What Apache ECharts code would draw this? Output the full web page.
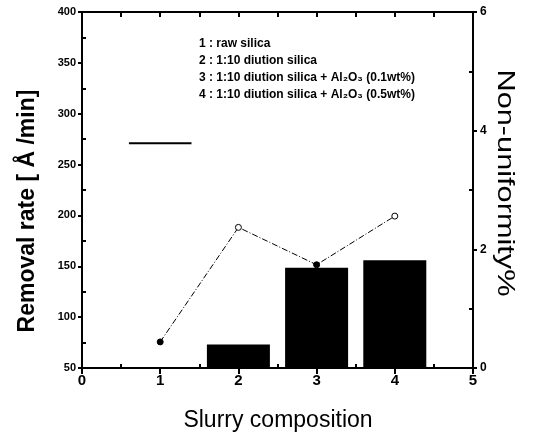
<!DOCTYPE html>
<html>
<head>
<meta charset="utf-8">
<script src="https://cdn.jsdelivr.net/npm/echarts@6/dist/echarts.min.js"></script>
<style>html,body{margin:0;padding:0;background:#fff}#c{width:534px;height:445px}</style>
</head>
<body>
<div id="c"></div>
<script>
// Data
var compositions = [1, 2, 3, 4];
var removalRate = [271, 73, 148.5, 156];      // Å/min (bar 1 drawn only as its top line)
var nonUniformity = [0.44, 2.37, 1.74, 2.56]; // %
var legendLines = [
  '1 : raw silica',
  '2 : 1:10 diution silica',
  '3 : 1:10 diution silica + Al\u2082O\u2083 (0.1wt%)',
  '4 : 1:10 diution silica + Al\u2082O\u2083 (0.5wt%)'
];
var xTicks = [0, 1, 2, 3, 4, 5];
var leftTicks = [50, 100, 150, 200, 250, 300, 350, 400];
var rightTicks = [0, 2, 4, 6];
var xTitle = 'Slurry composition';
var leftTitle = 'Removal rate [ \u00C5 /min]';
var rightTitle = 'Non-uniformity%';

var chart = echarts.init(document.getElementById('c'));
var black = '#000';
var axisLine = {show: true, onZero: false, lineStyle: {color: black, width: 2}};
var noLine = {show: false, onZero: false};
var tickLine = {color: black, width: 2};
var tickFont = {color: black, fontFamily: 'Liberation Sans', fontWeight: 'bold'};
var xMin = xTicks[0], xMax = xTicks[xTicks.length - 1];
var lMin = leftTicks[0], lMax = leftTicks[leftTicks.length - 1];
var rMin = rightTicks[0], rMax = rightTicks[rightTicks.length - 1];
var rect = {left: 82, right: 61, top: 12, bottom: 77};

var barData = [];
for (var i = 1; i < compositions.length; i++) barData.push([compositions[i], removalRate[i]]);
var lineData = compositions.map(function (c, i) {
  return {value: [c, nonUniformity[i]],
          itemStyle: {color: (i % 2 === 0) ? black : '#fff', borderColor: black, borderWidth: 1}};
});

var graphics = legendLines.map(function (t, i) {
  return {type: 'text', left: 199, top: 38 + i * 17,
          style: {text: t, fill: black, font: 'bold 12px "Liberation Sans"'}};
});
graphics.push({type: 'text', x: 28, y: 211, rotation: Math.PI / 2,
  style: {text: leftTitle, fill: black, font: 'bold 23px "Liberation Sans"', align: 'center', verticalAlign: 'middle'}});
graphics.push({type: 'text', x: 505, y: 183, rotation: -Math.PI / 2, scaleX: 1.28,
  style: {text: rightTitle, fill: black, font: '24px "Liberation Sans"', align: 'center', verticalAlign: 'middle'}});
graphics.push({type: 'text', x: 278, y: 421,
  style: {text: xTitle, fill: black, font: '23px "Liberation Sans"', align: 'center', verticalAlign: 'middle'}});

function hidden(extra) {
  return Object.assign({axisLabel: {show: false}, splitLine: {show: false}}, extra);
}

chart.setOption({
  animation: false,
  grid: [rect, rect, rect],
  xAxis: [
    {gridIndex: 0, type: 'value', position: 'bottom', min: xMin, max: xMax, interval: 1,
     axisLine: axisLine, axisTick: {show: true, length: 6, lineStyle: tickLine},
     splitLine: {show: false},
     axisLabel: Object.assign({fontSize: 15, margin: 5}, tickFont)},
    hidden({gridIndex: 1, type: 'value', position: 'bottom', min: xMin, max: xMax, interval: 1,
     axisLine: noLine, axisTick: {show: false, inside: true},
     minorTick: {show: true, splitNumber: 2, length: 4, lineStyle: tickLine}}),
    hidden({gridIndex: 2, type: 'value', position: 'top', min: xMin, max: xMax, interval: 0.5,
     axisLine: axisLine, axisTick: {show: true, inside: true, length: 5, lineStyle: tickLine}})
  ],
  yAxis: [
    {gridIndex: 0, type: 'value', position: 'left', min: lMin, max: lMax, interval: 50,
     axisLine: axisLine, axisTick: {show: true, length: 4, lineStyle: tickLine},
     splitLine: {show: false},
     axisLabel: Object.assign({fontSize: 11, margin: 6}, tickFont)},
    {gridIndex: 0, type: 'value', position: 'right', min: rMin, max: rMax, interval: 2,
     axisLine: axisLine, axisTick: {show: true, length: 4, lineStyle: tickLine},
     splitLine: {show: false},
     axisLabel: Object.assign({fontSize: 12, margin: 7}, tickFont)},
    hidden({gridIndex: 1, type: 'value', position: 'left', min: lMin, max: lMax, interval: 50,
     axisLine: noLine, axisTick: {show: false, inside: true},
     minorTick: {show: true, splitNumber: 2, length: 4, lineStyle: tickLine}}),
    hidden({gridIndex: 2, type: 'value', position: 'right', min: rMin, max: rMax, interval: 2,
     axisLine: noLine, axisTick: {show: false, inside: true},
     minorTick: {show: true, splitNumber: 2, length: 4, lineStyle: tickLine}})
  ],
  graphic: graphics,
  series: [
    {type: 'bar', xAxisIndex: 0, yAxisIndex: 0, data: barData, barWidth: 63,
     itemStyle: {color: black}, z: 2},
    {type: 'custom', xAxisIndex: 0, yAxisIndex: 0, data: [[compositions[0], removalRate[0]]],
     renderItem: function (params, api) {
       var a = api.coord([api.value(0) - 0.4, api.value(1)]);
       var b = api.coord([api.value(0) + 0.4, api.value(1)]);
       return {type: 'line', shape: {x1: a[0], y1: a[1], x2: b[0], y2: b[1]},
               style: {stroke: black, lineWidth: 2}};
     }, z: 3},
    {type: 'line', xAxisIndex: 0, yAxisIndex: 1, data: lineData,
     symbol: 'circle', symbolSize: 6,
     lineStyle: {color: black, width: 1, type: [6, 2, 1, 2]}, z: 5}
  ]
});
</script>
</body>
</html>
